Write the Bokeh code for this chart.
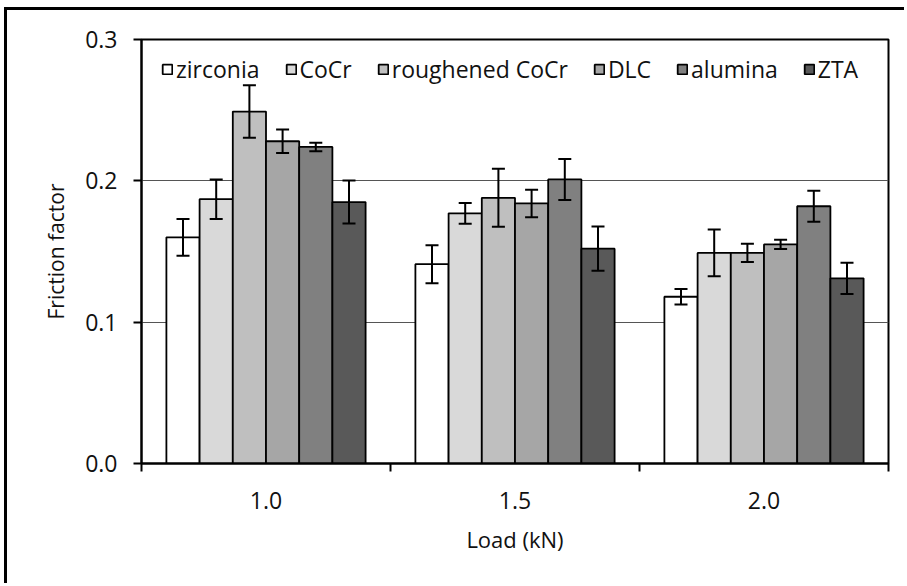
import numpy as np
from bokeh.plotting import figure
from bokeh.models import (ColumnDataSource, Range1d, FixedTicker, Legend, LegendItem,
                          Whisker, TeeHead, NumeralTickFormatter)
from bokeh.embed import file_html
from bokeh.resources import INLINE

# ---- data ----
loads = ["1.0", "1.5", "2.0"]
materials = ["zirconia", "CoCr", "roughened CoCr", "DLC", "alumina", "ZTA"]
colors = ["#ffffff", "#d9d9d9", "#bfbfbf", "#a6a6a6", "#808080", "#595959"]

zirconia = [0.160, 0.141, 0.118]
cocr = [0.187, 0.177, 0.149]
rough_cocr = [0.249, 0.188, 0.149]
dlc = [0.228, 0.184, 0.155]
alumina = [0.224, 0.201, 0.182]
zta = [0.185, 0.152, 0.131]

zirconia_err = [0.013, 0.0135, 0.0055]
cocr_err = [0.014, 0.0073, 0.0165]
rough_cocr_err = [0.0186, 0.0205, 0.0064]
dlc_err = [0.0083, 0.0097, 0.0033]
alumina_err = [0.003, 0.0145, 0.011]
zta_err = [0.0152, 0.0157, 0.011]

values = [zirconia, cocr, rough_cocr, dlc, alumina, zta]
errors = [zirconia_err, cocr_err, rough_cocr_err, dlc_err, alumina_err, zta_err]

y_ticks = [0.0, 0.1, 0.2, 0.3]

FONT = "Open Sans"
TXT = "#111111"
n_cat = len(loads)
n_ser = len(materials)
bar_w = 1.0 / (n_ser + 1.5)

p = figure(width=900, height=576, output_backend="svg", toolbar_location=None,
           x_range=Range1d(0, n_cat), y_range=Range1d(0, 0.3),
           min_border_left=134, min_border_right=19, min_border_top=29, min_border_bottom=123)
p.styles = {"margin-left": "4px", "margin-top": "7px",
            "border-left": "3px solid black", "border-top": "3px solid black"}
p.background_fill_color = "white"
p.border_fill_color = "white"
p.outline_line_color = "black"
p.outline_line_width = 2

centers = np.arange(n_cat) + 0.5
items = []
for j, (name, vals, errs, col) in enumerate(zip(materials, values, errors, colors)):
    v = np.array(vals)
    e = np.array(errs)
    src = ColumnDataSource(dict(x=centers + (j - (n_ser - 1) / 2) * bar_w, top=v,
                                upper=v + e, lower=v - e))
    r = p.vbar(x="x", top="top", width=bar_w, bottom=0, source=src,
               fill_color=col, line_color="black", line_width=1.8)
    w = Whisker(base="x", upper="upper", lower="lower", source=src, level="overlay",
                line_color="black", line_width=2,
                upper_head=TeeHead(size=13, line_width=2, line_color="black"),
                lower_head=TeeHead(size=13, line_width=2, line_color="black"))
    p.add_layout(w)
    items.append(LegendItem(label=name, renderers=[r]))

legend = Legend(items=items, orientation="horizontal", location=(20, 424 - 16 - 30),
                border_line_color=None, background_fill_alpha=0,
                label_text_font=FONT, label_text_font_size="23px", label_text_color=TXT,
                glyph_width=12, glyph_height=12, label_standoff=3, spacing=25,
                padding=0, margin=0)
p.add_layout(legend, "center")

# x axis
p.xaxis.ticker = FixedTicker(ticks=list(centers), minor_ticks=list(range(n_cat + 1)))
p.xaxis.major_label_overrides = {float(c): lab for c, lab in zip(centers, loads)}
p.xaxis.major_tick_line_color = None
p.xaxis.minor_tick_line_color = "black"
p.xaxis.minor_tick_line_width = 2
p.xaxis.minor_tick_out = 8
p.xaxis.minor_tick_in = 0
p.xaxis.axis_line_width = 2
p.xaxis.axis_line_color = "black"
p.xaxis.major_label_text_font = FONT
p.xaxis.major_label_text_font_size = "23px"
p.xaxis.major_label_text_color = TXT
p.xaxis.major_label_standoff = 20
p.xaxis.axis_label = "Load (kN)"
p.xaxis.axis_label_text_font = FONT
p.xaxis.axis_label_text_font_size = "22px"
p.xaxis.axis_label_text_font_style = "normal"
p.xaxis.axis_label_text_color = TXT
p.xaxis.axis_label_standoff = 12

# y axis
p.yaxis.ticker = FixedTicker(ticks=y_ticks, minor_ticks=[])
p.yaxis.formatter = NumeralTickFormatter(format="0.0")
p.yaxis.major_tick_out = 8
p.yaxis.major_tick_in = 0
p.yaxis.major_tick_line_width = 2
p.yaxis.axis_line_width = 2
p.yaxis.axis_line_color = "black"
p.yaxis.major_label_text_font = FONT
p.yaxis.major_label_text_font_size = "23px"
p.yaxis.major_label_text_color = TXT
p.yaxis.major_label_standoff = 16
p.yaxis.axis_label = "Friction factor"
p.yaxis.axis_label_text_font = FONT
p.yaxis.axis_label_text_font_size = "21px"
p.yaxis.axis_label_text_font_style = "normal"
p.yaxis.axis_label_text_color = TXT
p.yaxis.axis_label_standoff = 12

p.xgrid.visible = False
p.ygrid.ticker = FixedTicker(ticks=y_ticks)
p.ygrid.grid_line_color = "#555555"
p.ygrid.grid_line_width = 1

open("out.html", "w").write(file_html(p, INLINE))
